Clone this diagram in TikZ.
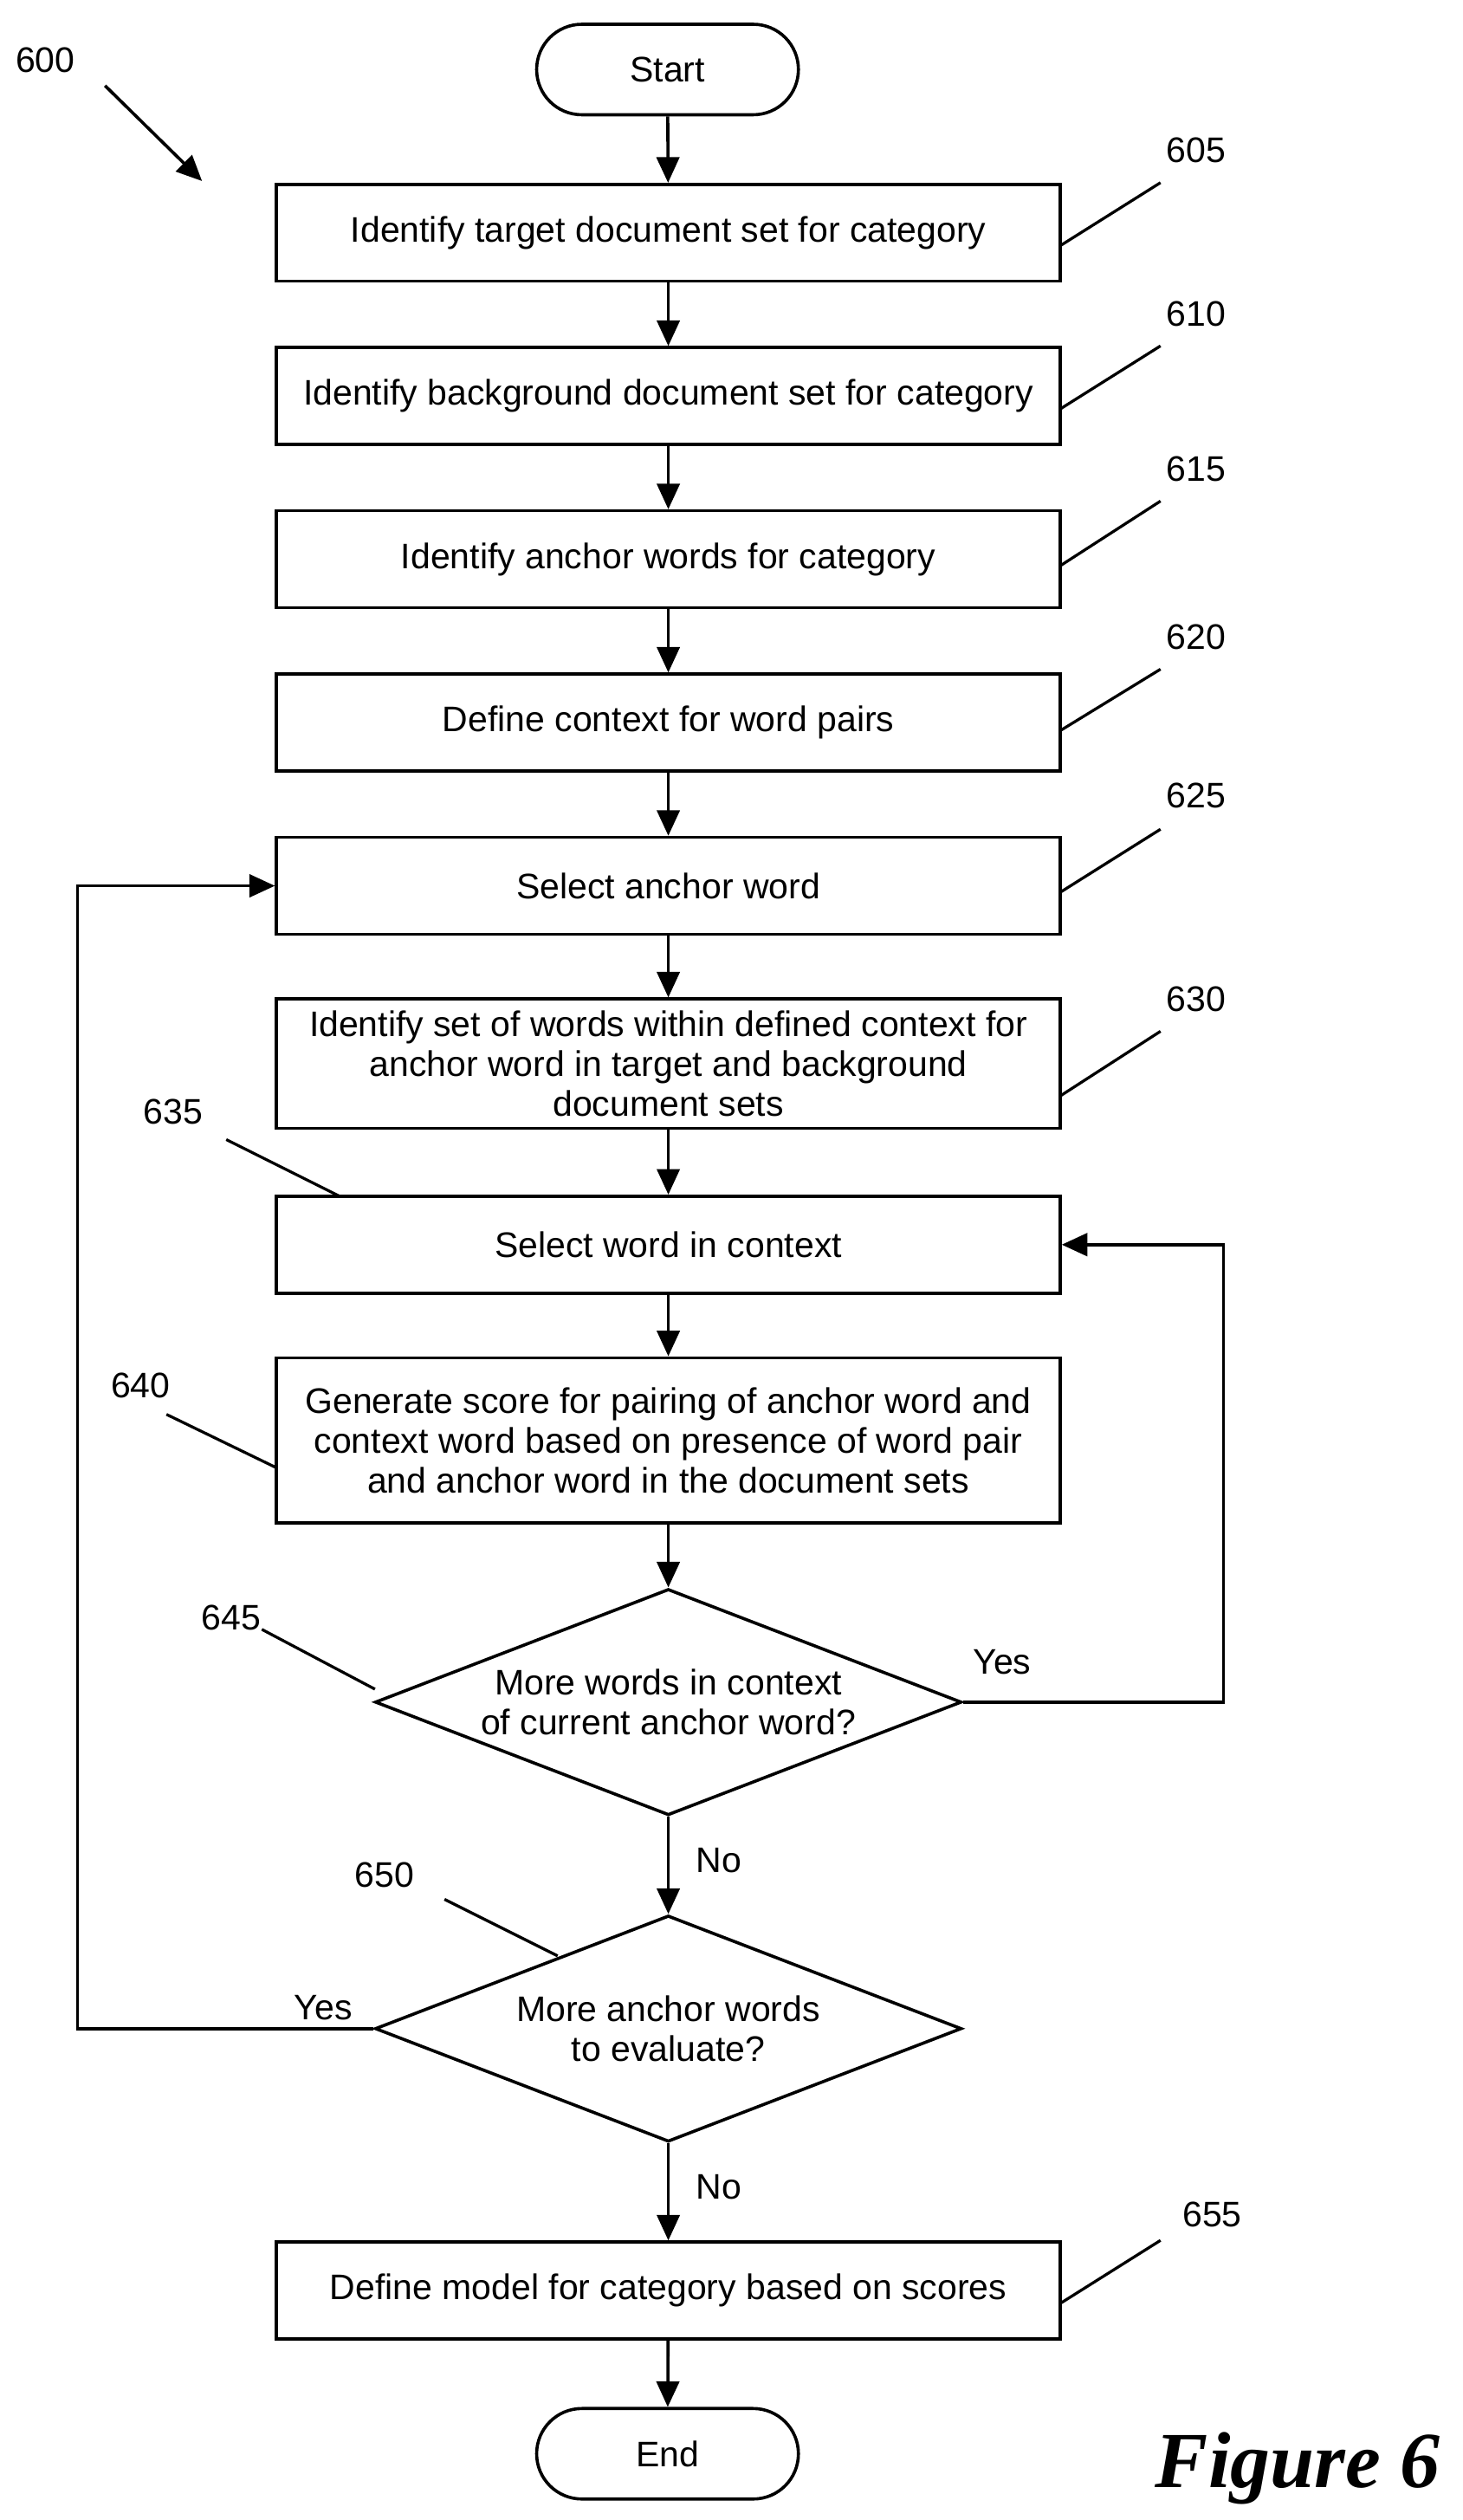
\documentclass[tikz,border=0pt]{standalone}
\usepackage{fontspec}
\setmainfont{Liberation Sans}
\newfontfamily\figfont{Liberation Serif}
\usetikzlibrary{shapes.geometric,arrows.meta}
\begin{document}
\begin{tikzpicture}[x=0.02cm,y=-0.02cm,
  box/.style={draw,line width=1.1pt,minimum width=9.7cm,minimum height=1.2cm,align=center,font=\fontsize{12.5}{14}\selectfont,inner sep=1pt},
  term/.style={draw,line width=1.1pt,rounded corners=0.56cm,minimum width=3.24cm,minimum height=1.12cm,font=\fontsize{12.5}{14}\selectfont},
  dia/.style={draw,line width=1.1pt,diamond,aspect=2.6,minimum width=7.26cm,minimum height=2.8cm,inner sep=0pt,align=center,font=\fontsize{12.5}{14}\selectfont},
  lbl/.style={font=\fontsize{12.5}{14}\selectfont},
  ld/.style={line width=1pt},
  arr/.style={line width=1.1pt,-{Triangle[length=9pt,width=8pt]}}]
\useasboundingbox (0,0) rectangle (905,1559);
\node[term] (st) at (413,43) {Start};
\node[box] (b605) at (413.5,144) {Identify target document set for category};
\node[box] (b610) at (413.5,245) {Identify background document set for category};
\node[box] (b615) at (413.5,346) {Identify anchor words for category};
\node[box] (b620) at (413.5,447) {Define context for word pairs};
\node[box] (b625) at (413.5,548) {Select anchor word};
\node[box,minimum height=1.6cm] (b630) at (413.5,658) {Identify set of words within defined context for\\anchor word in target and background\\document sets};
\node[box] (b635) at (413.5,770) {Select word in context};
\node[box,minimum height=2.04cm] (b640) at (413.5,891) {Generate score for pairing of anchor word and\\context word based on presence of word pair\\and anchor word in the document sets};
\node[dia] (d645) at (413.5,1053) {More words in context\\of current anchor word?};
\node[dia] (d650) at (413.5,1255) {More anchor words\\to evaluate?};
\node[box] (b655) at (413.5,1417) {Define model for category based on scores};
\node[term] (en) at (413,1518) {End};
\draw[arr] (st) -- (b605);
\draw[arr] (b605) -- (b610);
\draw[arr] (b610) -- (b615);
\draw[arr] (b615) -- (b620);
\draw[arr] (b620) -- (b625);
\draw[arr] (b625) -- (b630);
\draw[arr] (b630) -- (b635);
\draw[arr] (b635) -- (b640);
\draw[arr] (b640) -- (d645);
\draw[arr] (d645) -- node[lbl,right=6pt,pos=0.45]{No} (d650);
\draw[arr] (d650) -- node[lbl,right=6pt,pos=0.45]{No} (b655);
\draw[arr] (b655) -- (en);
\coordinate (r1) at (757,1053); \coordinate (r2) at (757,770);
\draw[arr] (d645.east) -- (r1) -- (r2) -- (b635.east);
\node[lbl] (y1) at (620,1028) {Yes};
\coordinate (l1) at (48,1255); \coordinate (l2) at (48,548);
\draw[arr] (d650.west) -- (l1) -- (l2) -- (b625.west);
\node[lbl] (y2) at (200,1242) {Yes};
\node[lbl] (n600) at (28,37) {600};
\coordinate (a1) at (65,53); \coordinate (a2) at (125,112);
\draw[arr] (a1) -- (a2);
\foreach \t/\tx/\ty/\ax/\ay/\bx/\by in {605/740/93/656/152/718/113, 610/740/194/656/253/718/214, 615/740/290/656/350/718/310, 620/740/394/656/452/718/414, 625/740/492/656/552/718/513, 630/740/618/656/678/718/638, 655/750/1370/656/1425/718/1386, 635/107/688/140/705/210/740, 640/87/857/103/875/171/908, 645/143/1001/162/1008/232/1045, 650/238/1160/275/1175/345/1210}{
  \node[lbl] (t\t) at (\tx,\ty) {\t};
  \draw[ld] (\ax,\ay) -- (\bx,\by);
}
\node[font=\figfont\bfseries\itshape\fontsize{28}{30}\selectfont] (fig) at (803,1527) {Figure 6};
\end{tikzpicture}
\end{document}
